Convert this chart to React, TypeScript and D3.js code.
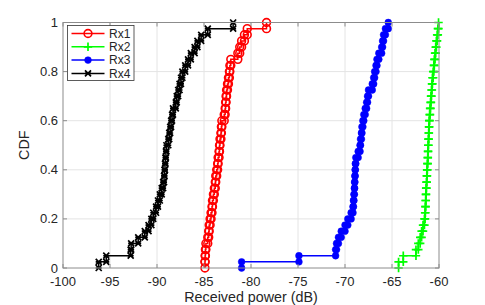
import React from 'react';
import * as d3 from 'd3';

// sorted received power samples (dB) per receiver, 40 each
const rx1 = [
  -84.9, -84.88, -84.85, -84.8, -84.6, -84.5, -84.45, -84.35, -84.25, -84.15,
  -84.1, -84.0, -83.9, -83.8, -83.75, -83.65, -83.55, -83.5, -83.4, -83.35,
  -83.3, -83.2, -83.15, -83.1, -82.85, -82.75, -82.7, -82.65, -82.6, -82.5,
  -82.4, -82.3, -82.25, -82.15, -81.4, -81.2, -81.0, -80.7, -80.4, -78.35
];
const rx2 = [
  -64.3, -63.8, -62.45, -62.2, -62.0, -61.85, -61.7, -61.55, -61.48, -61.45,
  -61.42, -61.4, -61.37, -61.33, -61.3, -61.27, -61.24, -61.2, -61.18, -61.15,
  -61.12, -61.1, -61.07, -61.04, -61.0, -60.95, -60.9, -60.85, -60.8, -60.75,
  -60.7, -60.62, -60.55, -60.5, -60.42, -60.35, -60.28, -60.2, -60.12, -60.05
];
const rx3 = [
  -81.0, -74.9, -71.0, -70.9, -70.7, -70.4, -70.0, -69.7, -69.35, -69.15,
  -69.1, -69.05, -69.0, -68.98, -68.95, -68.92, -68.9, -68.85, -68.6, -68.4,
  -68.35, -68.25, -68.2, -68.1, -68.0, -67.85, -67.7, -67.6, -67.5, -67.1,
  -66.95, -66.85, -66.7, -66.6, -66.4, -66.1, -66.0, -65.9, -65.7, -65.4
];
const rx4 = [
  -96.2, -95.4, -92.8, -92.75, -92.0, -91.3, -90.9, -90.6, -90.4, -90.1,
  -89.9, -89.7, -89.5, -89.35, -89.25, -89.2, -89.15, -89.1, -89.05, -89.0,
  -88.8, -88.7, -88.6, -88.5, -88.4, -88.3, -88.0, -87.9, -87.75, -87.6,
  -87.45, -87.3, -87.0, -86.7, -86.4, -86.0, -85.7, -85.3, -84.6, -81.9
];

const seriesNames = ['Rx1', 'Rx2', 'Rx3', 'Rx4'];
const seriesData = [rx1, rx2, rx3, rx4];
const seriesColors = ['#ff0000', '#00ff00', '#0000ff', '#000000'];
const seriesMarkers = ['circle', 'plus', 'dot', 'cross'];

const xTicks = [-100, -95, -90, -85, -80, -75, -70, -65, -60];
const yTicks = [0, 0.2, 0.4, 0.6, 0.8, 1];

const width = 485;
const height = 305;
const margin = { top: 22.5, right: 46, bottom: 37, left: 63 };
const font = 'Liberation Sans, Arial, Helvetica, sans-serif';

const stairPoints = (vals: number[]) => {
  const n = vals.length;
  const pts: [number, number][] = [];
  vals.forEach((v, i) => {
    pts.push([v, i / n]);
    pts.push([v, (i + 1) / n]);
  });
  return pts;
};

const Marker = ({ type, x, y, color }: { type: string; x: number; y: number; color: string }) => {
  if (type === 'circle') {
    return <circle cx={x} cy={y} r={3.9} fill="none" stroke={color} strokeWidth={1.6} />;
  }
  if (type === 'dot') {
    return <circle cx={x} cy={y} r={3.4} fill={color} stroke={color} strokeWidth={0.5} />;
  }
  if (type === 'plus') {
    const s = 4.2;
    return (
      <path d={`M${x - s},${y}H${x + s}M${x},${y - s}V${y + s}`} stroke={color} strokeWidth={1.7} />
    );
  }
  const s = 3;
  return (
    <path
      d={`M${x - s},${y - s}L${x + s},${y + s}M${x - s},${y + s}L${x + s},${y - s}M${x - s},${y}H${x + s}`}
      stroke={color}
      strokeWidth={1.7}
    />
  );
};

export default function App() {
  const innerW = width - margin.left - margin.right;
  const innerH = height - margin.top - margin.bottom;

  const x = d3.scaleLinear().domain([-100, -60]).range([margin.left, margin.left + innerW]);
  const y = d3.scaleLinear().domain([0, 1]).range([margin.top + innerH, margin.top]);

  const line = d3.line<[number, number]>()
    .x(d => x(d[0]))
    .y(d => y(d[1]));

  const x0 = x(-100), x1 = x(-60), y0 = y(0), y1 = y(1);
  const tickLen = 4;
  const axisColor = '#8c8c8c';
  const textColor = '#262626';

  // legend
  const lg = { x: 67.5, y: 25.5, w: 66.5, h: 55, row: 13.3 };

  return (
    <svg width={width} height={height} style={{ position: 'absolute', left: 0, top: 0, background: '#fff' }}>
      <rect x={x0} y={y1} width={x1 - x0} height={y0 - y1} fill="#fff" />
      {/* grid */}
      {xTicks.slice(1, -1).map(t => (
        <line key={`gx${t}`} x1={x(t)} x2={x(t)} y1={y1} y2={y0} stroke="#e4e4e4" strokeWidth={1} />
      ))}
      {yTicks.slice(1, -1).map(t => (
        <line key={`gy${t}`} x1={x0} x2={x1} y1={y(t)} y2={y(t)} stroke="#e4e4e4" strokeWidth={1} />
      ))}

      {/* curves */}
      {seriesData.map((vals, si) => {
        const pts = stairPoints(vals);
        return (
          <g key={seriesNames[si]}>
            <path d={line(pts) || ''} fill="none" stroke={seriesColors[si]} strokeWidth={1.5} />
            {pts.map((p, i) => (
              <Marker key={i} type={seriesMarkers[si]} x={x(p[0])} y={y(p[1])} color={seriesColors[si]} />
            ))}
          </g>
        );
      })}

      {/* box + ticks */}
      <rect x={x0} y={y1} width={x1 - x0} height={y0 - y1} fill="none" stroke={axisColor} strokeWidth={1} />
      {xTicks.map(t => (
        <g key={`tx${t}`}>
          <line x1={x(t)} x2={x(t)} y1={y0} y2={y0 - tickLen} stroke={axisColor} />
          <line x1={x(t)} x2={x(t)} y1={y1} y2={y1 + tickLen} stroke={axisColor} />
          <text x={x(t)} y={y0 + 18} textAnchor="middle" fontFamily={font} fontSize={13} fill={textColor}>
            {t}
          </text>
        </g>
      ))}
      {yTicks.map(t => (
        <g key={`ty${t}`}>
          <line x1={x0} x2={x0 + tickLen} y1={y(t)} y2={y(t)} stroke={axisColor} />
          <line x1={x1} x2={x1 - tickLen} y1={y(t)} y2={y(t)} stroke={axisColor} />
          <text x={x0 - 5} y={y(t) + 4.5} textAnchor="end" fontFamily={font} fontSize={13} fill={textColor}>
            {t}
          </text>
        </g>
      ))}

      {/* axis labels */}
      <text x={(x0 + x1) / 2} y={height - 3.5} textAnchor="middle" fontFamily={font} fontSize={14.3} fill={textColor}>
        Received power (dB)
      </text>
      <text
        transform={`translate(${29},${(y0 + y1) / 2}) rotate(-90)`}
        textAnchor="middle"
        fontFamily={font}
        fontSize={14.3}
        fill={textColor}
      >
        CDF
      </text>

      {/* legend */}
      <rect x={lg.x} y={lg.y} width={lg.w} height={lg.h} fill="#fff" stroke="#333" strokeWidth={0.8} />
      {seriesNames.map((name, i) => {
        const cy = lg.y + 8 + i * lg.row;
        return (
          <g key={`lg${name}`}>
            <line x1={lg.x + 4} x2={lg.x + 37} y1={cy} y2={cy} stroke={seriesColors[i]} strokeWidth={1.5} />
            <Marker type={seriesMarkers[i]} x={lg.x + 20.5} y={cy} color={seriesColors[i]} />
            <text x={lg.x + 41.5} y={cy + 4.2} fontFamily={font} fontSize={12} fill={textColor}>
              {name}
            </text>
          </g>
        );
      })}
    </svg>
  );
}
